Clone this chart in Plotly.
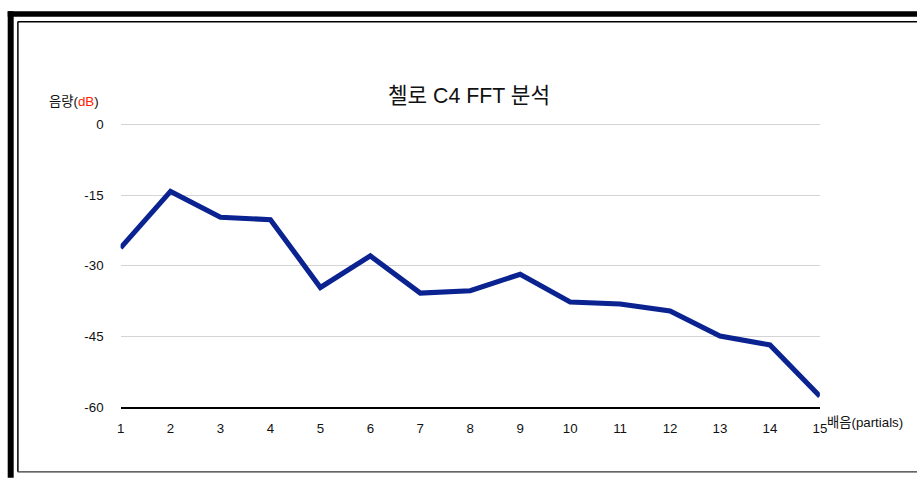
import plotly.graph_objects as go

# Cello C4 spectrum: level of each partial in dB
partials = list(range(1, 16))
level_db = [-26.2, -14.2, -19.7, -20.2, -34.6, -27.9, -35.8, -35.3, -31.8,
            -37.7, -38.1, -39.6, -44.9, -46.8, -57.7]
y_ticks = [0, -15, -30, -45, -60]

W, H = 917, 481
FONT = "Liberation Sans, Arial, Noto Sans CJK KR, sans-serif"

# layout is planned on a 917x481 canvas; the rendered page sits slightly
# inset and shrunk, so planned pixels are mapped onto figure pixels
SX, OX = 0.989, 3.3
SY, OY = 0.979, 2.8


def fx(x):
    return (x - OX) / SX


def fy(y):
    return (y - OY) / SY


def px(x):
    return fx(x) / W


def py(y):
    return 1 - fy(y) / H


# plot area on the canvas
X_LEFT, X_RIGHT = 120, 820
Y_BOTTOM, Y_ZERO = 407.5, 123.8
Y_TOP_VAL = 0.6  # a little headroom so the 0 gridline is drawn
PX_PER_DB = (Y_BOTTOM - Y_ZERO) / 60.0
Y_TOP = Y_ZERO - Y_TOP_VAL * PX_PER_DB

fig = go.Figure()
fig.add_trace(go.Scatter(
    x=partials, y=level_db, mode="lines",
    line=dict(color="#0a2390", width=5.1),
    hoverinfo="x+y", showlegend=False,
))

shapes = []
# thick outer frame (top and left)
shapes.append(dict(type="rect", xref="paper", yref="paper",
                   x0=px(7), x1=1.01, y0=py(15.5), y1=py(10),
                   fillcolor="black", line_width=0))
shapes.append(dict(type="rect", xref="paper", yref="paper",
                   x0=px(7), x1=px(13), y0=-0.01, y1=py(10),
                   fillcolor="black", line_width=0))
# thin inner frame
shapes.append(dict(type="line", xref="paper", yref="paper",
                   x0=px(17), x1=1.01, y0=py(20.5), y1=py(20.5),
                   line=dict(color="black", width=1.5)))
bottom_y = max(py(479), 1.2 / H)
shapes.append(dict(type="line", xref="paper", yref="paper",
                   x0=px(17.2), x1=px(17.2), y0=bottom_y, y1=py(20.5),
                   line=dict(color="black", width=1.5)))
shapes.append(dict(type="line", xref="paper", yref="paper",
                   x0=px(17), x1=1.01, y0=bottom_y, y1=bottom_y,
                   line=dict(color="#333", width=1.2)))

annotations = [
    dict(text="첼로 C4 FFT 분석", x=px(469), y=py(95), xref="paper", yref="paper",
         showarrow=False, xanchor="center", yanchor="middle",
         font=dict(family=FONT, size=21.3, color="#111")),
    dict(text="음량(<span style='color:#ff2200'>dB</span>)", x=px(46), y=py(101),
         xref="paper", yref="paper", showarrow=False,
         xanchor="left", yanchor="middle",
         font=dict(family=FONT, size=13.3, color="#111")),
    dict(text="배음(partials)", x=px(825), y=py(423), xref="paper", yref="paper",
         showarrow=False, xanchor="left", yanchor="middle",
         font=dict(family=FONT, size=13.3, color="#111")),
]

fig.update_layout(
    width=W, height=H,
    margin=dict(l=0, r=0, t=0, b=0),
    paper_bgcolor="white", plot_bgcolor="white",
    font=dict(family=FONT, size=13.3, color="#111"),
    shapes=shapes, annotations=annotations,
    xaxis=dict(domain=[px(X_LEFT), px(X_RIGHT)], range=[1, 15],
               tickmode="array", tickvals=partials,
               ticktext=[str(p) for p in partials],
               showgrid=False, zeroline=False,
               showline=True, linecolor="black", linewidth=1.5,
               ticks="", ticklabelstandoff=8),
    yaxis=dict(domain=[py(Y_BOTTOM), py(Y_TOP)], range=[-60, Y_TOP_VAL],
               tickmode="array", tickvals=y_ticks,
               ticktext=[str(v) for v in y_ticks],
               showgrid=True, gridcolor="#d4d4d4", gridwidth=1,
               zeroline=False, showline=False,
               ticks="", ticklabelstandoff=16),
)

fig.write_html("out.html")
